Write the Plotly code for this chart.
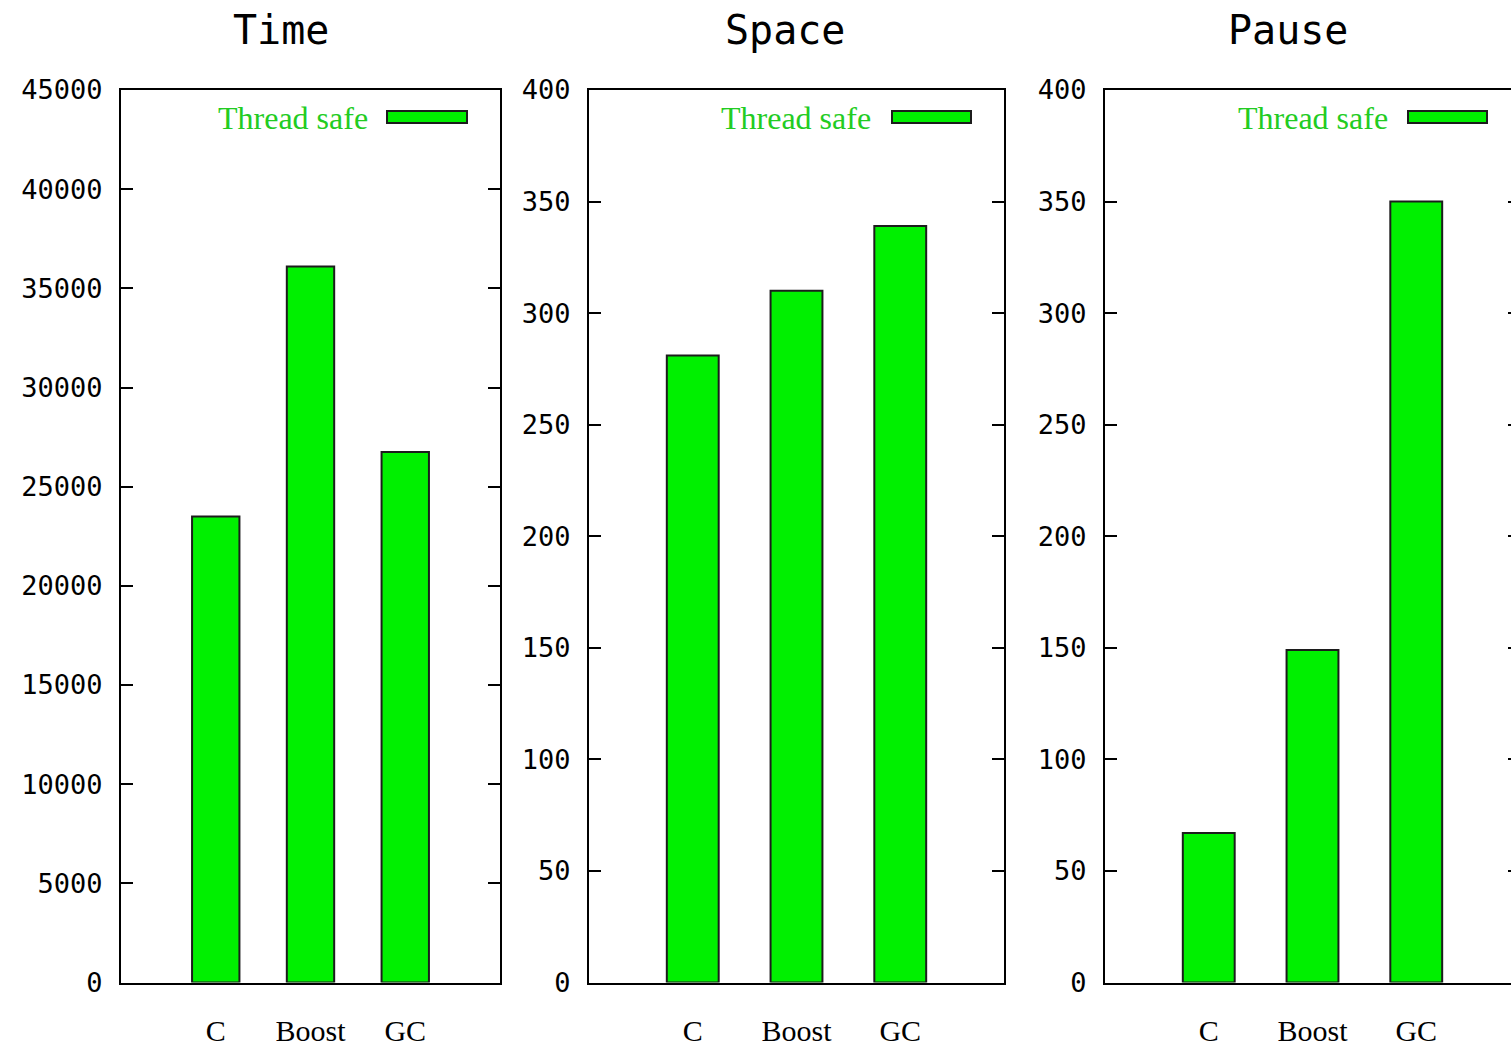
import plotly.graph_objects as go

# ---- data ----
categories = ["C", "Boost", "GC"]
time_values = [23500, 36100, 26750]
space_values = [281, 310, 339]
pause_values = [67, 149, 350]
panel_titles = ["Time", "Space", "Pause"]
legend_label = "Thread safe"
time_ticks = list(range(0, 45001, 5000))
small_ticks = list(range(0, 401, 50))

W, H = 1525, 1048
BAR_FILL = "#00f000"
BAR_LINE = "#1c1c1c"
TEXT_GREEN = "#22cc22"

def px(x):
    return x / W

def py(y):
    return (H - y) / H

panels = [
    dict(vals=time_values, x0=121, x1=500, yr=[0, 45000], ticks=time_ticks,
         title_x=281, leg_text_x=370, leg_r=(387, 467)),
    dict(vals=space_values, x0=589, x1=1004, yr=[0, 400], ticks=small_ticks,
         title_x=785, leg_text_x=873, leg_r=(892, 971)),
    dict(vals=pause_values, x0=1105, x1=1520, yr=[0, 400], ticks=small_ticks,
         title_x=1288, leg_text_x=1390, leg_r=(1408, 1487)),
]

fig = go.Figure()
y_top, y_bot = 90, 982.5
layout = dict(
    width=W, height=H,
    margin=dict(l=0, r=0, t=0, b=0, autoexpand=False),
    paper_bgcolor="white", plot_bgcolor="white",
    showlegend=False,
)
annotations = []
shapes = []
for i, p in enumerate(panels):
    n = "" if i == 0 else str(i + 1)
    fig.add_trace(go.Bar(
        x=categories, y=p["vals"], xaxis="x" + n, yaxis="y" + n,
        width=0.5,
        marker=dict(color=BAR_FILL, line=dict(color=BAR_LINE, width=2)),
        hoverinfo="x+y",
    ))
    layout["xaxis" + n] = dict(
        domain=[px(p["x0"]), px(p["x1"])], anchor="y" + n,
        range=[-1, 3], type="category", automargin=False,
        showline=True, linecolor="black", linewidth=2, mirror=True,
        ticks="", showgrid=False, zeroline=False,
        tickfont=dict(family="Liberation Serif", size=30, color="black"),
        ticklabelstandoff=20,
    )
    layout["yaxis" + n] = dict(
        domain=[py(y_bot), py(y_top)], anchor="x" + n,
        range=p["yr"], tickvals=p["ticks"], tickformat="d", automargin=False,
        showline=True, linecolor="black", linewidth=2, mirror="ticks",
        ticks="inside", ticklen=12, tickwidth=2, tickcolor="black",
        showgrid=False, zeroline=False,
        tickfont=dict(family="DejaVu Sans Mono", size=27, color="black"),
        ticklabelstandoff=11,
    )
    annotations.append(dict(
        text=panel_titles[i], x=px(p["title_x"]), y=py(30), xref="paper", yref="paper",
        xanchor="center", yanchor="middle", showarrow=False,
        font=dict(family="DejaVu Sans Mono", size=40, color="black"),
    ))
    annotations.append(dict(
        text=legend_label, x=px(p["leg_text_x"]), y=py(118), xref="paper", yref="paper",
        xanchor="right", yanchor="middle", showarrow=False,
        font=dict(family="Liberation Serif", size=32, color=TEXT_GREEN),
    ))
    shapes.append(dict(
        type="rect", xref="paper", yref="paper",
        x0=px(p["leg_r"][0]), x1=px(p["leg_r"][1]), y0=py(123), y1=py(111),
        fillcolor=BAR_FILL, line=dict(color=BAR_LINE, width=2),
    ))

layout["annotations"] = annotations
layout["shapes"] = shapes
fig.update_layout(**layout)
fig.write_html(
    "out.html",
    config={"displayModeBar": False},
    post_script="document.body.style.margin='0';document.body.style.overflow='hidden';",
)
